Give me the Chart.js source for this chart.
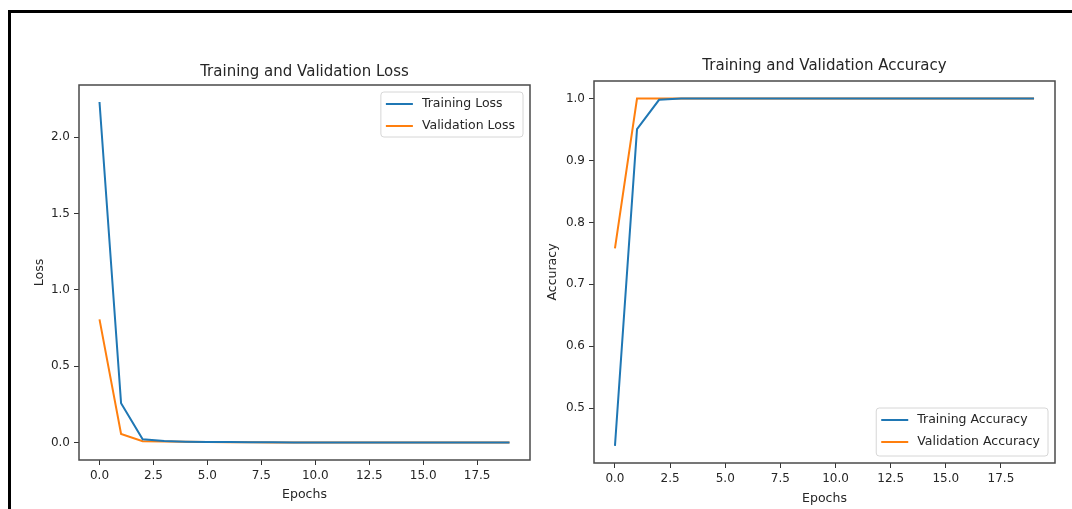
<!DOCTYPE html>
<html>
<head>
<meta charset="utf-8">
<script src="https://cdn.jsdelivr.net/npm/chart.js@4"></script>
<style>
    body { margin: 0; background: #fff; width: 1072px; height: 509px; overflow: hidden; position: relative; }
    canvas { position: absolute; top: 0; }
    #loss { left: 0; }
    #acc { left: 535px; }
    .edge { position: absolute; background: #000; z-index: 2; }
</style>
</head>
<body>
<canvas id="loss" width="535" height="509"></canvas>
<canvas id="acc" width="537" height="509"></canvas>
<div class="edge" style="left:8px; top:10px; right:0; height:3px"></div>
<div class="edge" style="left:8px; top:10px; width:3px; bottom:0"></div>
<script>
const epochs = [0, 1, 2, 3, 4, 5, 6, 7, 8, 9, 10, 11, 12, 13, 14, 15, 16, 17, 18, 19]
const trainLoss = [2.23, 0.258, 0.023, 0.011, 0.007, 0.005, 0.004, 0.003, 0.003, 0.002, 0.002, 0.002, 0.002, 0.001, 0.001, 0.001, 0.001, 0.001, 0.001, 0.001]
const valLoss = [0.807, 0.057, 0.010, 0.008, 0.006, 0.004, 0.003, 0.003, 0.002, 0.002, 0.002, 0.002, 0.001, 0.001, 0.001, 0.001, 0.001, 0.001, 0.001, 0.001]
const trainAcc = [0.439, 0.9505, 0.998, 1.0, 1.0, 1.0, 1.0, 1.0, 1.0, 1.0, 1.0, 1.0, 1.0, 1.0, 1.0, 1.0, 1.0, 1.0, 1.0, 1.0]
const valAcc = [0.758, 1.0, 1.0, 1.0, 1.0, 1.0, 1.0, 1.0, 1.0, 1.0, 1.0, 1.0, 1.0, 1.0, 1.0, 1.0, 1.0, 1.0, 1.0, 1.0]

const epochTicks = [0, 2.5, 5, 7.5, 10, 12.5, 15, 17.5]
const lossTicks = [0, 0.5, 1, 1.5, 2]
const accTicks = [0.5, 0.6, 0.7, 0.8, 0.9, 1.0]

const BLUE = '#1f77b4'
const ORANGE = '#ff7f0e'
const FONT = 'DejaVu Sans'
const TEXT = '#262626'

// matplotlib-like frame, title above the axes and legend box inside
const mplPlugin = {
    id: 'mpl',
    afterDraw(chart, args, opts) {
        const {ctx, chartArea: a} = chart
        ctx.save()
        ctx.strokeStyle = '#4a4a4a'
        ctx.lineWidth = 1.5
        ctx.strokeRect(a.left, a.top, a.right - a.left, a.bottom - a.top)

        ctx.fillStyle = TEXT
        ctx.font = `15px "${FONT}"`
        ctx.textAlign = 'center'
        ctx.textBaseline = 'middle'
        ctx.fillText(opts.title, (a.left + a.right) / 2, a.top - opts.titleGap)

        ctx.font = `12.5px "${FONT}"`
        const sets = chart.data.datasets
        const textW = Math.max(...sets.map(d => ctx.measureText(d.label).width))
        const w = 5 + 27 + 9 + textW + 8
        const h = opts.boxH
        const x = a.right - 7 - w
        const y = opts.corner === 'upper' ? a.top + 7 : a.bottom - 7 - h
        ctx.beginPath()
        ctx.roundRect(x, y, w, h, 3)
        ctx.fillStyle = 'rgba(255,255,255,0.8)'
        ctx.fill()
        ctx.strokeStyle = '#d6d6d6'
        ctx.lineWidth = 1
        ctx.stroke()
        ctx.textAlign = 'left'
        sets.forEach((d, i) => {
            const ry = y + 12 + i * 22
            ctx.strokeStyle = d.borderColor
            ctx.lineWidth = 2
            ctx.beginPath()
            ctx.moveTo(x + 5, ry)
            ctx.lineTo(x + 32, ry)
            ctx.stroke()
            ctx.fillStyle = TEXT
            ctx.fillText(d.label, x + 41, ry)
        })
        ctx.restore()
    }
}

function makeChart(el, cfg) {
    return new Chart(document.getElementById(el), {
        type: 'line',
        data: {
            labels: epochs,
            datasets: cfg.series.map(s => ({
                label: s.label,
                data: s.data,
                borderColor: s.color,
                backgroundColor: s.color,
                borderWidth: 2,
                pointRadius: 0,
                tension: 0
            }))
        },
        options: {
            responsive: false,
            animation: false,
            devicePixelRatio: 1,
            layout: { padding: cfg.padding },
            plugins: {
                legend: { display: false },
                tooltip: { enabled: false },
                mpl: { title: cfg.title, titleGap: cfg.titleGap, corner: cfg.corner, boxH: cfg.boxH }
            },
            scales: {
                x: {
                    type: 'linear',
                    min: -0.95,
                    max: 19.95,
                    afterBuildTicks: s => { s.ticks = epochTicks.map(v => ({ value: v })) },
                    afterFit: s => { s.height = cfg.xHeight },
                    grid: { display: true, drawOnChartArea: false, drawTicks: true, tickLength: 5, color: '#333' },
                    border: { display: false },
                    ticks: {
                        padding: 4,
                        maxRotation: 0,
                        autoSkip: false,
                        color: TEXT,
                        font: { family: FONT, size: 12 },
                        callback: v => v.toFixed(1)
                    },
                    title: {
                        display: true,
                        text: 'Epochs',
                        color: TEXT,
                        font: { family: FONT, size: 12.5 },
                        padding: { top: 0, bottom: cfg.xTitlePad }
                    }
                },
                y: {
                    min: cfg.yMin,
                    max: cfg.yMax,
                    afterBuildTicks: s => { s.ticks = cfg.yTicks.map(v => ({ value: v })) },
                    afterFit: s => { s.width = cfg.yWidth },
                    grid: { display: true, drawOnChartArea: false, drawTicks: true, tickLength: 5, color: '#333' },
                    border: { display: false },
                    ticks: {
                        padding: 4,
                        autoSkip: false,
                        color: TEXT,
                        font: { family: FONT, size: 12 },
                        callback: v => v.toFixed(1)
                    },
                    title: {
                        display: true,
                        text: cfg.yTitle,
                        color: TEXT,
                        font: { family: FONT, size: 12.5 },
                        padding: { top: cfg.yTitlePad, bottom: 0 }
                    }
                }
            }
        },
        plugins: [mplPlugin]
    })
}

makeChart('loss', {
    title: 'Training and Validation Loss',
    titleGap: 13,
    corner: 'upper',
    boxH: 45,
    yTitle: 'Loss',
    yTicks: lossTicks,
    series: [
        { label: 'Training Loss', data: trainLoss, color: BLUE },
        { label: 'Validation Loss', data: valLoss, color: ORANGE }
    ],
    yMin: -0.113, yMax: 2.341,
    padding: { left: 0, right: 5, top: 85, bottom: 0 },
    yWidth: 79, xHeight: 49, xTitlePad: 7, yTitlePad: 32
})

makeChart('acc', {
    title: 'Training and Validation Accuracy',
    titleGap: 15,
    corner: 'lower',
    boxH: 48,
    yTitle: 'Accuracy',
    yTicks: accTicks,
    series: [
        { label: 'Training Accuracy', data: trainAcc, color: BLUE },
        { label: 'Validation Accuracy', data: valAcc, color: ORANGE }
    ],
    yMin: 0.4113, yMax: 1.0284,
    padding: { left: 0, right: 17, top: 81, bottom: 0 },
    yWidth: 59, xHeight: 46, xTitlePad: 3, yTitlePad: 10
})
</script>
</body>
</html>
